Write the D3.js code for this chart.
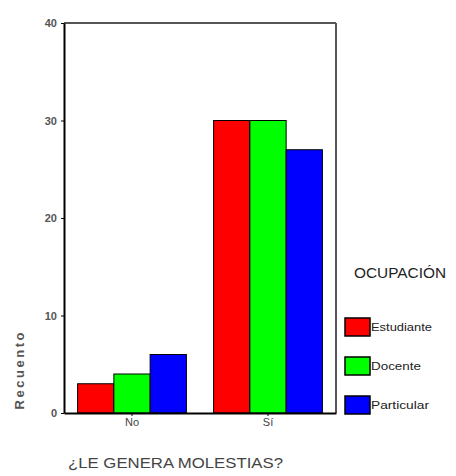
<!DOCTYPE html>
<html>
<head>
<meta charset="utf-8">
<script src="https://cdn.jsdelivr.net/npm/d3@7"></script>
<style>
  body { margin: 0; background: #fff; }
  svg { font-family: "Liberation Sans", Arial, sans-serif; }
</style>
</head>
<body>
<div id="chart"></div>
<script>
const categories = ["No", "Sí"];
const series = ["Estudiante", "Docente", "Particular"];
const colors = ["#ff0000", "#00ff00", "#0000ff"];
const estudiante = [3, 30];
const docente = [4, 30];
const particular = [6, 27];
const yTicks = [0, 10, 20, 30, 40];

const values = [estudiante, docente, particular];
const data = categories.map((c, i) => ({cat: c, vals: series.map((s, j) => ({s: s, v: values[j][i], color: colors[j]}))}));

const svg = d3.select("#chart").append("svg")
    .attr("width", 456)
    .attr("height", 476);

const plotLeft = 64, plotRight = 336, plotTop = 23, plotBottom = 413;

const yScale = d3.scaleLinear().domain([0, 40]).range([plotBottom, plotTop]);
const xScale = d3.scaleBand().domain(categories).range([plotLeft, plotRight])
    .paddingInner(0.2).paddingOuter(0.1);
const xInner = d3.scaleBand().domain(series).range([0, xScale.bandwidth()]);

// marco: arriba y derecha
svg.append("line").attr("x1", plotLeft).attr("x2", plotRight).attr("y1", plotTop).attr("y2", plotTop)
    .attr("stroke", "#555").attr("stroke-width", 2);
svg.append("line").attr("x1", plotRight).attr("x2", plotRight).attr("y1", plotTop).attr("y2", plotBottom)
    .attr("stroke", "#555").attr("stroke-width", 2);

// barras
const groups = svg.selectAll("g.grp")
    .data(data)
    .enter()
    .append("g")
    .attr("class", "grp")
    .attr("transform", d => `translate(${xScale(d.cat)},0)`);

groups.selectAll("rect")
    .data(d => d.vals)
    .enter()
    .append("rect")
    .attr("x", d => xInner(d.s))
    .attr("y", d => yScale(d.v))
    .attr("width", xInner.bandwidth())
    .attr("height", d => yScale(0) - yScale(d.v))
    .attr("fill", d => d.color)
    .attr("stroke", "#000")
    .attr("stroke-width", 1);

// Y axis
const yAxis = svg.append("g")
    .attr("transform", `translate(${plotLeft},0)`)
    .call(d3.axisLeft(yScale).tickValues(yTicks).tickSize(3).tickSizeOuter(0).tickPadding(4));
yAxis.select(".domain").attr("stroke", "#000").attr("stroke-width", 2);
yAxis.selectAll("text").attr("font-size", 11).attr("font-weight", "bold").attr("fill", "#555");

// X axis
const xAxis = svg.append("g")
    .attr("transform", `translate(0,${plotBottom})`)
    .call(d3.axisBottom(xScale).tickSize(3).tickSizeOuter(0).tickPadding(2));
xAxis.select(".domain").attr("stroke", "#000").attr("stroke-width", 2);
xAxis.selectAll("text").attr("font-size", 11).attr("fill", "#444");

// Axis labels
svg.append("text")
    .attr("transform", "rotate(-90)")
    .attr("x", -371)
    .attr("y", 24)
    .attr("text-anchor", "middle")
    .attr("font-size", 13)
    .attr("font-weight", "bold")
    .attr("fill", "#555")
    .attr("textLength", 77)
    .attr("lengthAdjust", "spacing")
    .text("Recuento");

svg.append("text")
    .attr("x", 68)
    .attr("y", 468)
    .attr("font-size", 14)
    .attr("fill", "#444")
    .attr("textLength", 215)
    .attr("lengthAdjust", "spacingAndGlyphs")
    .text("¿LE GENERA MOLESTIAS?");

// Leyenda
svg.append("text")
    .attr("x", 354)
    .attr("y", 278)
    .attr("font-size", 14)
    .attr("fill", "#222")
    .attr("textLength", 92)
    .attr("lengthAdjust", "spacingAndGlyphs")
    .text("OCUPACIÓN");

const labelWidths = [61, 50, 58];

const legend = svg.selectAll("g.leg")
    .data(series)
    .enter()
    .append("g")
    .attr("class", "leg")
    .attr("transform", (d, i) => `translate(345,${318 + i * 39})`);

legend.append("rect")
    .attr("width", 25)
    .attr("height", 18)
    .attr("fill", (d, i) => colors[i])
    .attr("stroke", "#000")
    .attr("stroke-width", 1.5);

legend.append("text")
    .attr("x", 26)
    .attr("y", 13)
    .attr("font-size", 11)
    .attr("fill", "#222")
    .attr("textLength", (d, i) => labelWidths[i])
    .attr("lengthAdjust", "spacingAndGlyphs")
    .text(d => d);
</script>
</body>
</html>
